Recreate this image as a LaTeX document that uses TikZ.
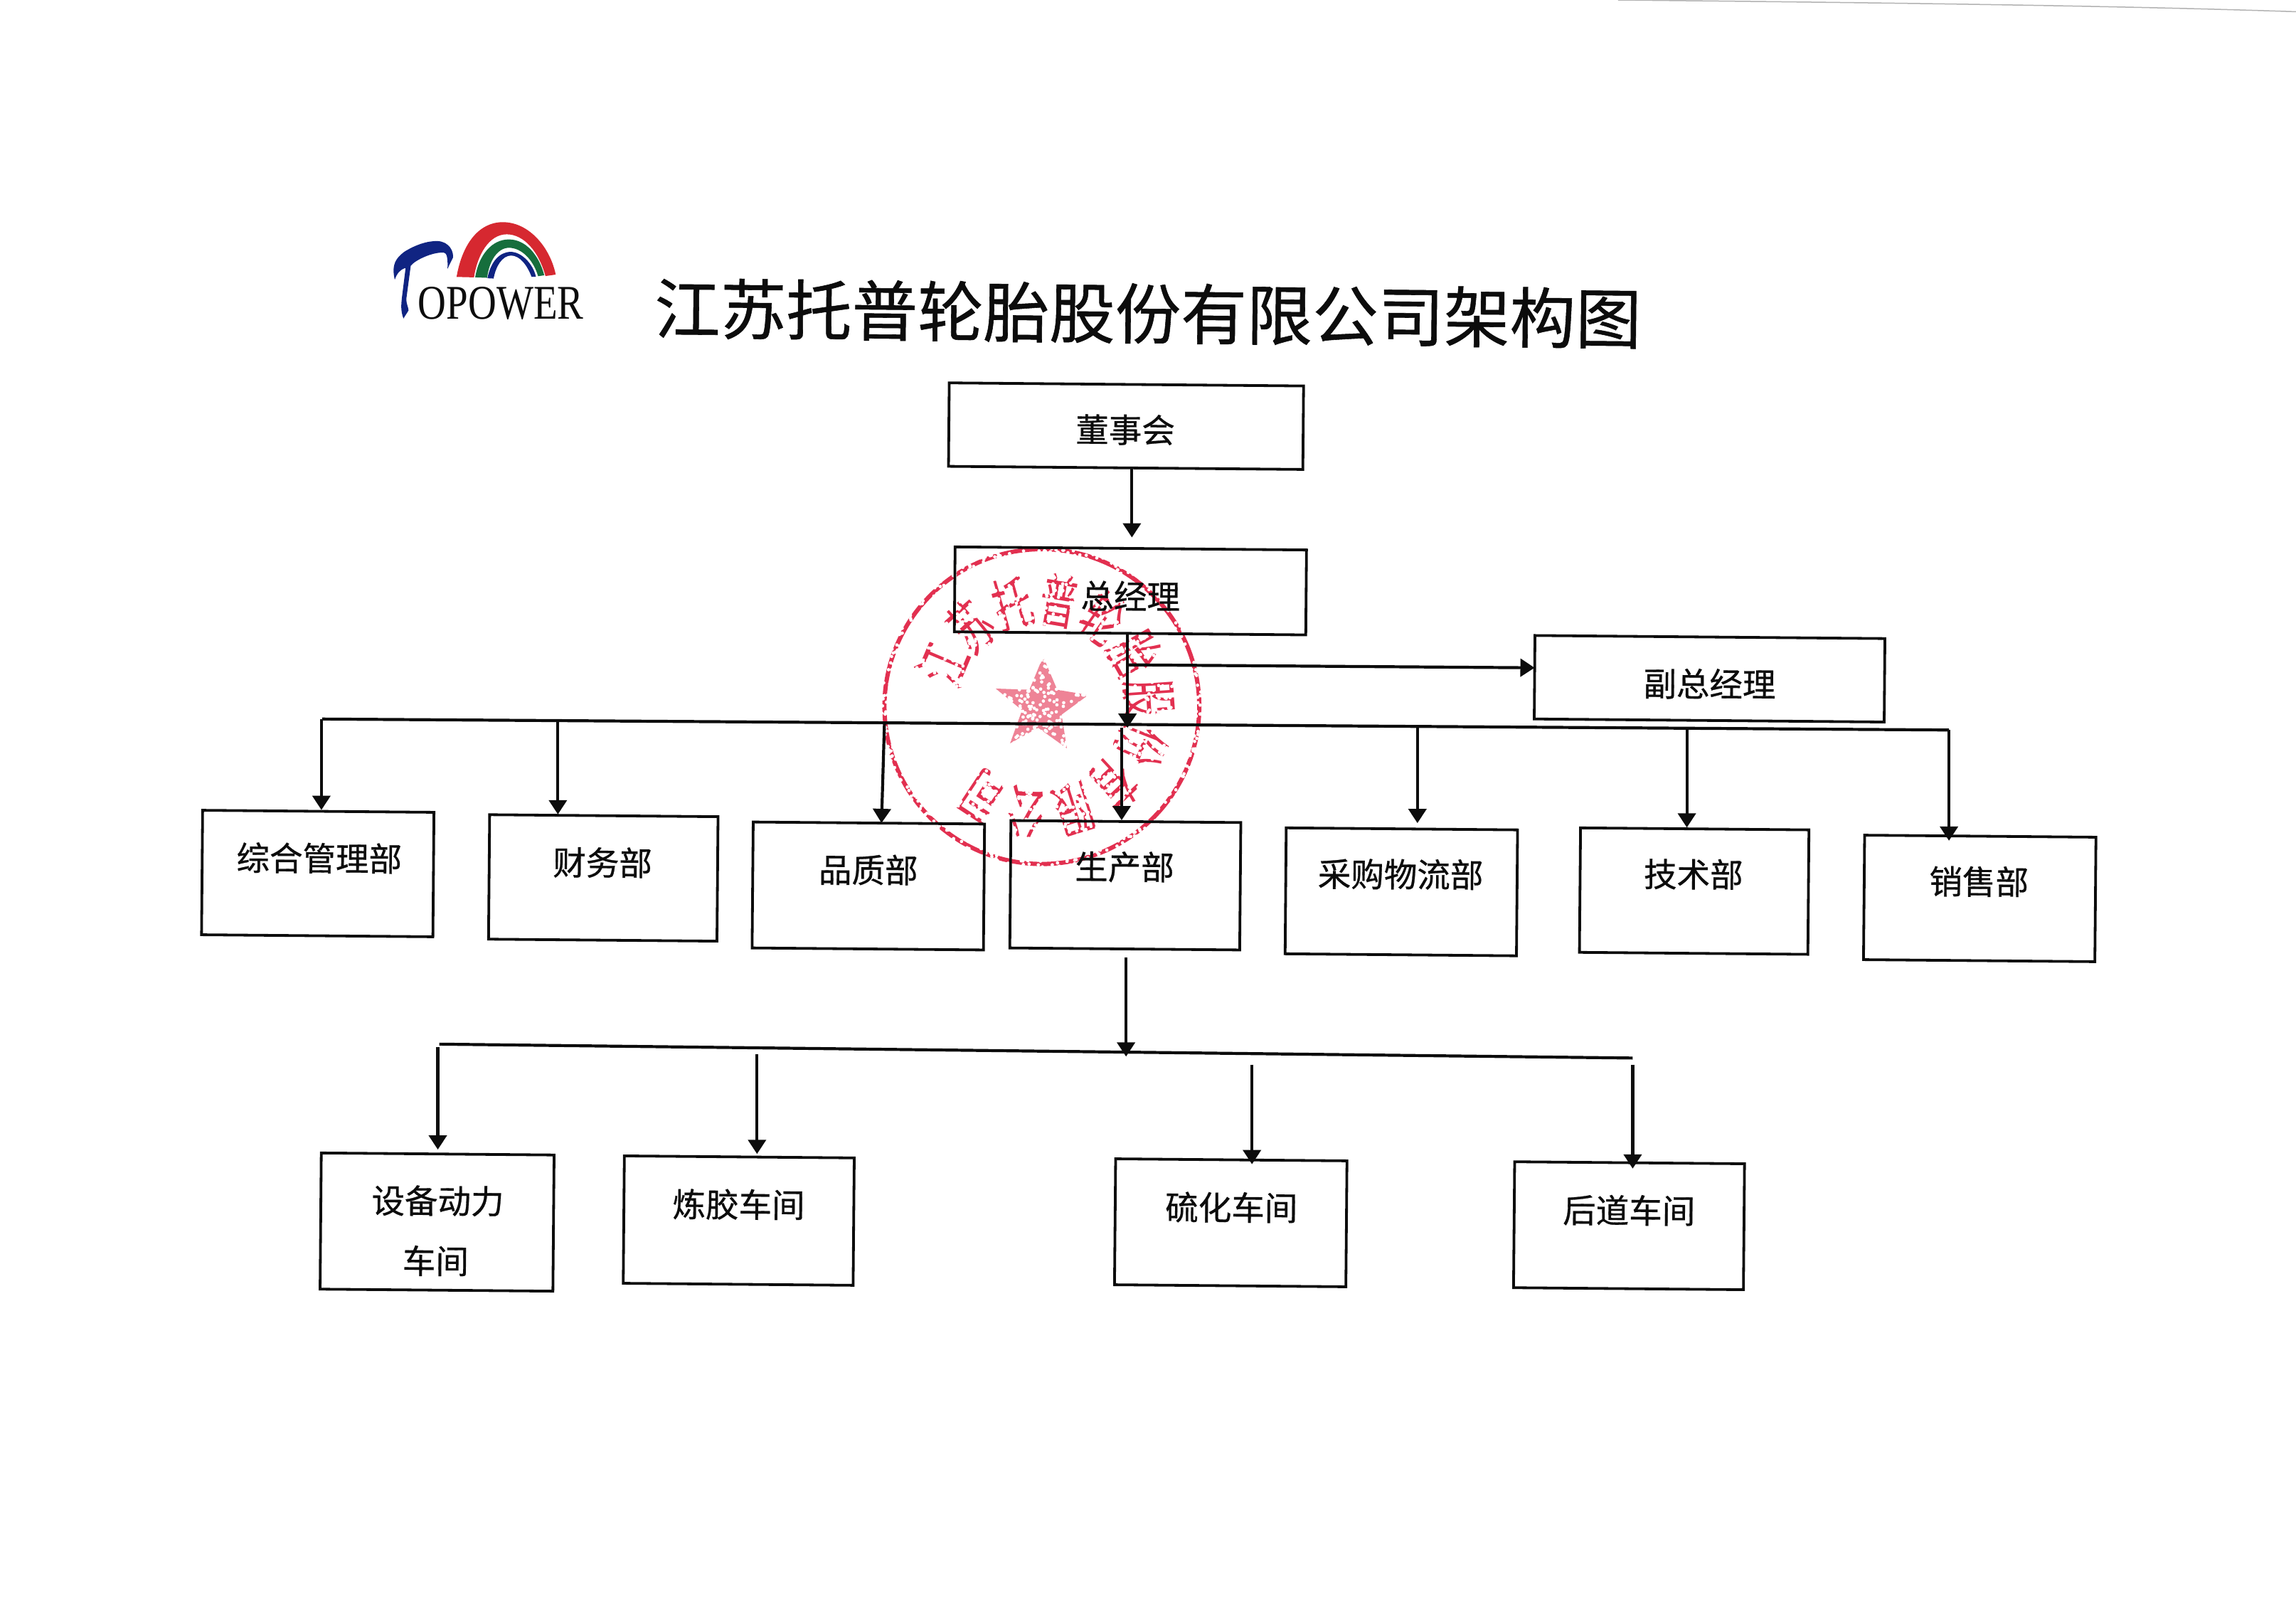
\documentclass[tikz,border=0pt]{standalone}
\usepackage{fontspec}
\usepackage{graphicx}
\setmainfont{Liberation Serif}
\newfontfamily\cjk{Noto Sans CJK SC}
\newfontfamily\cjkheavy[FakeBold=0.6]{Noto Sans CJK SC}
\usetikzlibrary{arrows.meta,calc}
\definecolor{inkblack}{RGB}{12,12,12}
\definecolor{sealred}{RGB}{226,48,80}
\definecolor{logored}{RGB}{214,40,48}
\definecolor{logogreen}{RGB}{22,110,60}
\definecolor{logoblue}{RGB}{16,36,130}
\newcommand{\lab}{\cjkheavy\fontsize{46.5}{62}\selectfont}
\tikzset{
  x=2.0587pt,y=-2.0587pt,
  orgbox/.style={draw=inkblack,line width=3.8pt,rotate=-0.5,inner sep=0pt},
  orgtext/.style={font=\lab,text=inkblack,inner sep=0pt,rotate=-0.4},
  link/.style={draw=inkblack,line width=4.2pt},
  arr/.style={link,-{Triangle[width=25pt,length=20pt]}},
  sealchar/.style={font=\cjk\fontsize{82}{82}\selectfont,text=sealred,inner sep=0pt},
}
\newcommand{\orgnode}[5]{%
  \node[orgbox,minimum width=#4*2.0587pt,minimum height=#5*2.0587pt] (#1) at (#2,#3) {};}
\begin{document}
\begin{tikzpicture}
\useasboundingbox (0,0) rectangle (1568,1105.5);
\fill[white] (0,0) rectangle (1568,1105.5);
% scan edge at top right
\draw[black!30,line width=1.5pt] (1105,0) .. controls (1300,2) and (1450,4) .. (1568,8);

% ---------- seal ----------
\draw[sealred,line width=6pt] (711.5,482.5) circle (107.5);
\fill[sealred!60] (712.4,448.3) -- (722,471) -- (743.2,474.6) -- (725,488) -- (728.6,511)
  -- (709,497) -- (689.8,507.6) -- (698,485) -- (680,470.2) -- (703,471) -- cycle;
\foreach \ch [count=\i from 0] in {江,苏,托,普,轮,胎,股,份,有,限,公,司}{
  \pgfmathsetmacro{\ang}{157-\i*25.5}
  \pgfmathsetmacro{\rot}{\ang-90}
  \node[sealchar,rotate=\rot] (seal\i) at ($(711.5,482.5)+({73*cos(\ang)},{-73*sin(\ang)})$) {\scalebox{.66}[1]{\ch}};
}
\pgfmathsetseed{7}
\foreach \i in {1,...,3200}{
  \pgfmathsetmacro{\ra}{rnd*360}
  \pgfmathsetmacro{\rr}{113*sqrt(rnd)}
  \fill[white] ($(711.5,482.5)+({\rr*cos(\ra)},{\rr*sin(\ra)})$) circle (1.15);
}

% ---------- logo ----------
\fill[logored] (311.8,189.1) .. controls (316,165) and (328,151.7) .. (343.3,151.7)
  .. controls (362,151.7) and (376,170) .. (379.5,187.5) -- (372.5,188.5)
  .. controls (368,172) and (358,160) .. (346,160) .. controls (334,160) and (326,174) .. (323.7,189.4) -- cycle;
\fill[logogreen] (324.5,189.4) .. controls (327,174) and (336,163.5) .. (347.5,163.5)
  .. controls (359,163.5) and (368,174) .. (371.7,188) -- (367.5,188.6)
  .. controls (364,177) and (356,169.2) .. (347.5,169.2) .. controls (340,169.2) and (334,178) .. (332.7,189.7) -- cycle;
\fill[logoblue] (332.9,190) .. controls (335,179) and (341,172) .. (348.8,172)
  .. controls (356,172) and (364,180) .. (366,189) -- (363,189)
  .. controls (360,181) and (355,174.5) .. (349,174.5) .. controls (343,174.5) and (338.5,182) .. (337.1,190.2) -- cycle;
\fill[logoblue] (269.6,191) .. controls (267,180) and (271,176) .. (276,172)
  .. controls (284,167) and (292,164.5) .. (298.7,164.6)
  .. controls (307,165) and (310,172) .. (309.3,176) -- (305.6,183.5)
  .. controls (306,176) and (305,172.5) .. (303,172.5)
  .. controls (295,172) and (283,178) .. (280.5,181.5)
  -- (277.5,204) .. controls (277.5,208) and (279,210) .. (279,212) -- (275.5,217.5)
  .. controls (273.5,212) and (274,208) .. (274.5,203) -- (277,183)
  .. controls (273,184) and (271,187) .. cycle;
\node[font=\fontsize{68}{68}\selectfont,text=inkblack,inner sep=0pt,anchor=base west] (brand) at (285.5,217.8) {\scalebox{.81}[1]{OPOWER}};

% ---------- title ----------
\node[font=\cjkheavy\fontsize{92.5}{92.5}\selectfont,text=inkblack,inner sep=0pt,rotate=-0.6] (title) at (784,214) {江苏托普轮胎股份有限公司架构图};

% ---------- boxes ----------
\orgnode{dsh}{769}{291}{242}{57}
\orgnode{zjl}{772}{403.5}{240}{58}
\orgnode{fzjl}{1167.5}{463.5}{239}{57}
\orgnode{zh}{217}{596.5}{158}{85}
\orgnode{cw}{412}{599.5}{156}{85}
\orgnode{pz}{593}{605}{158}{86}
\orgnode{sc}{768.5}{604.5}{157}{87}
\orgnode{cg}{957}{609}{158}{86}
\orgnode{js}{1157}{608.5}{156}{85}
\orgnode{xs}{1352}{613.5}{158}{85}
\orgnode{sb}{298.5}{834.5}{159}{93}
\orgnode{lj}{504.5}{833.5}{157}{87}
\orgnode{lh}{840.5}{835}{158}{86}
\orgnode{hd}{1112.5}{837}{157}{86}

% ---------- texts ----------
\node[orgtext] (tdsh) at (768.5,293.5) {董事会};
\node[orgtext] (tzjl) at (772,407) {总经理};
\node[orgtext] (tfzjl) at (1167.5,467) {副总经理};
\node[orgtext] (tzh) at (218,586) {综合管理部};
\node[orgtext] (tcw) at (411.5,589) {财务部};
\node[orgtext] (tpz) at (593,594) {品质部};
\node[orgtext] (tsc) at (768,592) {生产部};
\node[orgtext] (tcg) at (956.5,597) {采购物流部};
\node[orgtext] (tjs) at (1156.5,597) {技术部};
\node[orgtext] (txs) at (1351.5,602) {销售部};
\node[orgtext] (tsb) at (299,820) {设备动力};
\node[orgtext] (tsbb) at (297.5,861) {车间};
\node[orgtext] (tlj) at (504.5,822.5) {炼胶车间};
\node[orgtext] (tlh) at (841,824.5) {硫化车间};
\node[orgtext] (thd) at (1112.5,826.5) {后道车间};

% ---------- free ends ----------
\coordinate (a0) at (773,320);
\coordinate (a1) at (773,367);
\coordinate (b0) at (770,433);
\coordinate (b1) at (770,497);
\coordinate (c0) at (770,454);
\coordinate (c1) at (1048,456);
\coordinate (busL) at (220,491);
\coordinate (busR) at (1331,498.5);
\coordinate (d1) at (219.5,491);
\coordinate (d2) at (381,492.5);
\coordinate (d3) at (604,494);
\coordinate (d3e) at (602,562);
\coordinate (d4) at (766,497);
\coordinate (d5) at (968,496.5);
\coordinate (d6) at (1152,498);
\coordinate (d7) at (1331,498.5);
\coordinate (e0) at (769,654);
\coordinate (e1) at (769,721.5);
\coordinate (bus2L) at (300,713);
\coordinate (bus2R) at (1115,722.5);
\coordinate (f1) at (299,715);
\coordinate (f1e) at (299,785);
\coordinate (f2) at (517,720);
\coordinate (f2e) at (517,788);
\coordinate (f3) at (855,727);
\coordinate (f3e) at (855,795);
\coordinate (f4) at (1115,727);
\coordinate (f4e) at (1115,798);

% ---------- connectors ----------
\draw[arr] (a0) -- (a1);
\draw[arr] (b0) -- (b1);
\draw[arr] (c0) -- (c1);
\draw[link] (busL) -- (busR);
\draw[arr] (d1) -- (d1 |- zh.north);
\draw[arr] (d2) -- (d2 |- cw.north);
\draw[arr] (d3) -- (d3e);
\draw[arr] (d4) -- (d4 |- sc.north);
\draw[arr] (d5) -- ($(d5 |- cg.north)+(0,-3)$);
\draw[arr] (d6) -- (d6 |- js.north);
\draw[arr] (d7) -- ($(d7 |- xs.north)+(0,4)$);
\draw[arr] (e0) -- (e1);
\draw[link] (bus2L) -- (bus2R);
\draw[arr] (f1) -- (f1e);
\draw[arr] (f2) -- (f2e);
\draw[arr] (f3) -- (f3e);
\draw[arr] (f4) -- (f4e);
\end{tikzpicture}
\end{document}
